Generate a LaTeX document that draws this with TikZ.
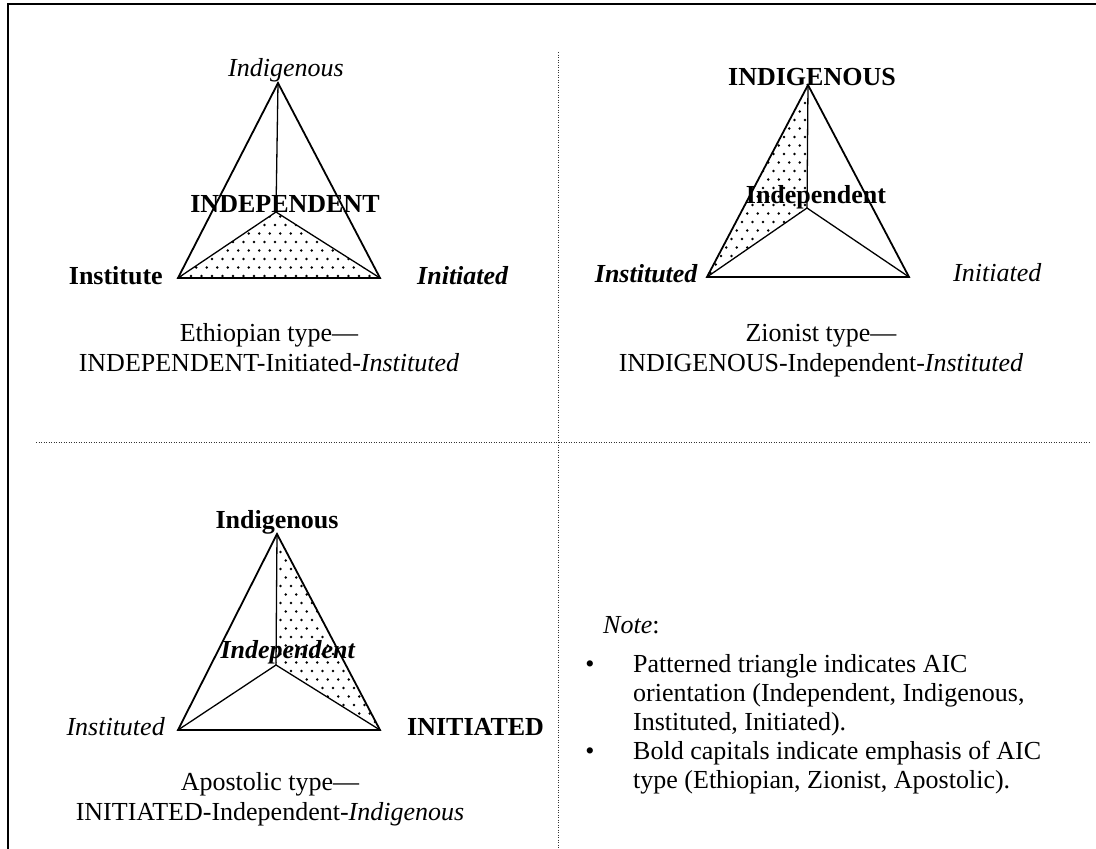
\documentclass[tikz,border=0pt]{standalone}
\usepackage{fontspec}
\setmainfont{Liberation Serif}
\begin{document}
\begin{tikzpicture}[x=1pt,y=-1pt,
  lbl/.style={inner sep=0pt, font=\fontsize{26}{29}\selectfont},
  outer/.style={line width=1.8pt, line join=miter},
  inner/.style={line width=1.3pt},
  sep/.style={line width=1pt, draw=black!80, dash pattern=on 1pt off 1.5pt},
  frame/.style={line width=2pt},
  dotc/.style={fill=black}
]
\useasboundingbox (0,0) rectangle (1096,849);
\fill[white] (0,0) rectangle (1096,849);
% frame
\coordinate (F1) at (8,4);
\coordinate (F2) at (1096,4);
\coordinate (F3) at (8,849);
\draw[frame] (F2) -- (F1) -- (F3);
% separators
\coordinate (V1) at (558,52);
\coordinate (V2) at (558,849);
\coordinate (H1) at (36,442);
\coordinate (H2) at (1090,442);
\draw[sep] (V1) -- (V2);
\draw[sep] (H1) -- (H2);

% ---------- Ethiopian (top-left)
\coordinate (a1) at (278,83);
\coordinate (b1) at (178,278);
\coordinate (c1) at (380,278);
\coordinate (m1) at (276,212);
\begin{scope}
\clip (b1) -- (m1) -- (c1) -- cycle;
\foreach \r in {0,...,9}{\foreach \c in {0,...,21}{
  \fill[dotc] ({170+10.5*\c+5.25*mod(\r,2)},{208+8.5*\r}) circle (1.35pt);}}
\end{scope}
\draw[inner] (a1) -- (m1);
\draw[inner] (b1) -- (m1) -- (c1);
\draw[outer] (b1) -- (a1) -- (c1) -- cycle;
\node[lbl, anchor=base] (t1) at (286,76) {\textit{Indigenous}};
\node[lbl, anchor=base] (i1) at (285,212) {\textbf{INDEPENDENT}};
\node[lbl, anchor=base east] (l1) at (163,284) {\textbf{Institute}};
\node[lbl, anchor=base west] (r1) at (417,284) {\textbf{\textit{Initiated}}};
\node[lbl, anchor=base] (ca1) at (269,341) {Ethiopian type—};
\node[lbl, anchor=base] (cb1) at (269,371) {INDEPENDENT-Initiated-\textit{Instituted}};

% ---------- Zionist (top-right)
\coordinate (a2) at (808,85);
\coordinate (b2) at (707,277);
\coordinate (c2) at (909,277);
\coordinate (m2) at (807,208);
\begin{scope}
\clip (b2) -- (a2) -- (m2) -- cycle;
\foreach \r in {0,...,23}{\foreach \c in {0,...,12}{
  \fill[dotc] ({700+10.5*\c+5.25*mod(\r,2)},{86+8.5*\r}) circle (1.35pt);}}
\end{scope}
\draw[inner] (a2) -- (m2);
\draw[inner] (b2) -- (m2) -- (c2);
\draw[outer] (b2) -- (a2) -- (c2) -- cycle;
\node[lbl, anchor=base] (t2) at (812,85) {\textbf{INDIGENOUS}};
\node[lbl, anchor=base] (i2) at (816,203) {\textbf{Independent}};
\node[lbl, anchor=base east] (l2) at (698,282) {\textbf{\textit{Instituted}}};
\node[lbl, anchor=base west] (r2) at (953,281) {\textit{Initiated}};
\node[lbl, anchor=base] (ca2) at (821,341) {Zionist type—};
\node[lbl, anchor=base] (cb2) at (821,371) {INDIGENOUS-Independent-\textit{Instituted}};

% ---------- Apostolic (bottom-left)
\coordinate (a3) at (277,534);
\coordinate (b3) at (178,730);
\coordinate (c3) at (380,730);
\coordinate (m3) at (276,665);
\begin{scope}
\clip (a3) -- (c3) -- (m3) -- cycle;
\foreach \r in {0,...,24}{\foreach \c in {0,...,12}{
  \fill[dotc] ({270+10.5*\c+5.25*mod(\r,2)},{535+8.5*\r}) circle (1.35pt);}}
\end{scope}
\draw[inner] (a3) -- (m3);
\draw[inner] (b3) -- (m3) -- (c3);
\draw[outer] (b3) -- (a3) -- (c3) -- cycle;
\node[lbl, anchor=base] (t3) at (277,528) {\textbf{Indigenous}};
\node[lbl, anchor=base] (i3) at (288,658) {\textbf{\textit{Independent}}};
\node[lbl, anchor=base east] (l3) at (165,735) {\textit{Instituted}};
\node[lbl, anchor=base west] (r3) at (407,735) {\textbf{INITIATED}};
\node[lbl, anchor=base] (ca3) at (270,790) {Apostolic type—};
\node[lbl, anchor=base] (cb3) at (270,820) {INITIATED-Independent-\textit{Indigenous}};

% ---------- Note
\node[lbl, anchor=base west] (note) at (603,633) {\textit{Note}:};
\node[lbl, anchor=base] (bu1) at (590,672) {•};
\node[lbl, anchor=base west] (n1) at (633,672) {Patterned triangle indicates AIC};
\node[lbl, anchor=base west] (n2) at (633,701) {orientation (Independent, Indigenous,};
\node[lbl, anchor=base west] (n3) at (633,730) {Instituted, Initiated).};
\node[lbl, anchor=base] (bu2) at (590,759) {•};
\node[lbl, anchor=base west] (n4) at (633,759) {Bold capitals indicate emphasis of AIC};
\node[lbl, anchor=base west] (n5) at (633,788) {type (Ethiopian, Zionist, Apostolic).};
\end{tikzpicture}
\end{document}
